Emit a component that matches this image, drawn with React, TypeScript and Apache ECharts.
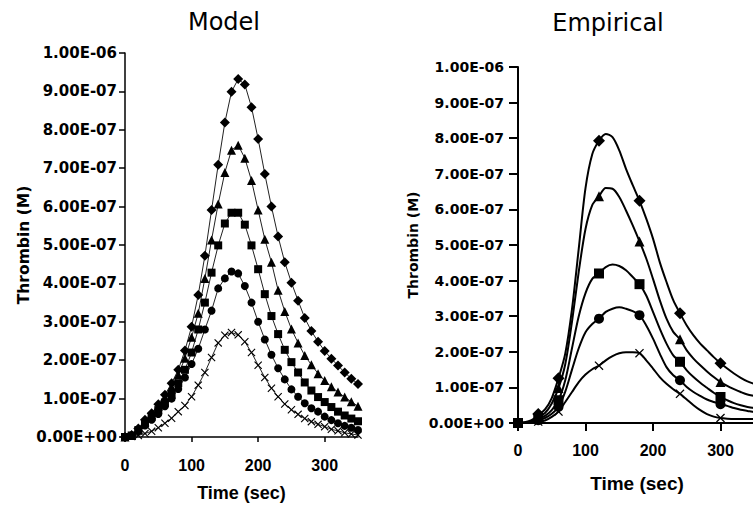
import React, { useEffect, useRef } from 'react';
import * as echarts from 'echarts';

// ---- Model panel (values in units of 1e-7 M) ----
const modelTime = [0, 10, 20, 30, 40, 50, 60, 70, 80, 90, 100, 110, 120, 130, 140, 150, 160, 170, 180, 190, 200, 210, 220, 230, 240, 250, 260, 270, 280, 290, 300, 310, 320, 330, 340, 350];
const modelDiamond = [0, 0.05, 0.22, 0.45, 0.62, 0.85, 1.1, 1.4, 1.75, 2.25, 2.87, 3.7, 4.72, 5.91, 7.09, 8.19, 8.99, 9.32, 9.18, 8.59, 7.76, 6.85, 6.0, 5.22, 4.55, 4.02, 3.55, 3.1, 2.76, 2.48, 2.24, 2.04, 1.86, 1.68, 1.52, 1.38];
const modelTriangle = [0, 0.04, 0.2, 0.4, 0.58, 0.8, 1.02, 1.3, 1.62, 2.05, 2.6, 3.22, 4.13, 5.13, 6.07, 6.89, 7.47, 7.6, 7.26, 6.68, 5.91, 5.15, 4.55, 3.82, 3.27, 2.81, 2.45, 2.12, 1.88, 1.65, 1.47, 1.31, 1.17, 1.04, 0.92, 0.8];
const modelSquare = [0, 0.04, 0.18, 0.36, 0.52, 0.7, 0.9, 1.1, 1.4, 1.75, 2.2, 2.8, 3.5, 4.28, 4.99, 5.56, 5.84, 5.84, 5.53, 4.99, 4.37, 3.72, 3.15, 2.68, 2.27, 1.95, 1.68, 1.42, 1.21, 1.04, 0.91, 0.78, 0.66, 0.56, 0.48, 0.41];
const modelCircle = [0, 0.03, 0.15, 0.3, 0.45, 0.6, 0.8, 1.0, 1.25, 1.55, 1.9, 2.3, 2.8, 3.29, 3.87, 4.13, 4.31, 4.26, 3.93, 3.5, 3.0, 2.54, 2.14, 1.79, 1.5, 1.24, 1.05, 0.88, 0.75, 0.66, 0.53, 0.44, 0.36, 0.29, 0.24, 0.18];
const modelCross = [0, 0.01, 0.04, 0.09, 0.15, 0.24, 0.36, 0.49, 0.66, 0.82, 1.05, 1.35, 1.68, 2.07, 2.45, 2.65, 2.72, 2.66, 2.48, 2.2, 1.87, 1.55, 1.27, 1.05, 0.86, 0.71, 0.59, 0.48, 0.4, 0.33, 0.27, 0.2, 0.16, 0.11, 0.08, 0.05];

// ---- Empirical panel: measured points (units of 1e-7 M) ----
const empTime = [0, 30, 60, 120, 180, 240, 300];
const empDiamond = [0, 0.25, 1.26, 7.93, 6.24, 3.08, 1.68];
const empTriangle = [0, 0.18, 0.98, 6.37, 5.1, 2.35, 1.15];
const empSquare = [0, 0.12, 0.64, 4.2, 3.9, 1.72, 0.73];
const empCircle = [0, 0.08, 0.45, 2.93, 3.03, 1.2, 0.53];
const empCross = [0, 0.04, 0.32, 1.61, 1.96, 0.82, 0.14];

// ---- Empirical panel: fitted curves (units of 1e-7 M) ----
const empCurveTime = [0, 10, 20, 30, 40, 50, 60, 70, 80, 90, 100, 110, 120, 130, 140, 150, 160, 170, 180, 190, 200, 210, 220, 230, 240, 250, 260, 270, 280, 290, 300, 310, 320, 330, 340, 350, 360];
const empCurveDiamond = [0, 0.02, 0.08, 0.22, 0.38, 0.7, 1.26, 1.95, 3.2, 4.9, 6.6, 7.55, 7.93, 8.12, 8.03, 7.66, 7.14, 6.68, 6.24, 5.74, 5.18, 4.52, 3.96, 3.45, 3.08, 2.74, 2.46, 2.23, 2.04, 1.85, 1.68, 1.53, 1.39, 1.27, 1.17, 1.1, 1.03];
const empCurveTriangle = [0, 0.01, 0.06, 0.17, 0.28, 0.55, 0.98, 1.65, 2.85, 4.25, 5.45, 6.12, 6.37, 6.6, 6.58, 6.35, 5.97, 5.55, 5.1, 4.62, 4.05, 3.45, 2.93, 2.56, 2.35, 2.04, 1.81, 1.62, 1.45, 1.29, 1.15, 1.04, 0.95, 0.87, 0.8, 0.76, 0.72];
const empCurveSquare = [0, 0.01, 0.04, 0.12, 0.2, 0.36, 0.64, 1.2, 2.1, 3.0, 3.65, 4.05, 4.2, 4.38, 4.45, 4.41, 4.29, 4.1, 3.9, 3.58, 3.12, 2.65, 2.23, 1.9, 1.72, 1.48, 1.29, 1.13, 0.99, 0.85, 0.73, 0.64, 0.56, 0.5, 0.45, 0.42, 0.4];
const empCurveCircle = [0, 0.01, 0.03, 0.08, 0.14, 0.26, 0.45, 0.88, 1.5, 2.1, 2.55, 2.78, 2.93, 3.12, 3.21, 3.25, 3.21, 3.14, 3.03, 2.74, 2.37, 1.95, 1.57, 1.34, 1.2, 1.01, 0.87, 0.76, 0.66, 0.59, 0.53, 0.48, 0.42, 0.37, 0.34, 0.31, 0.29];
const empCurveCross = [0, 0.0, 0.01, 0.04, 0.07, 0.17, 0.32, 0.59, 0.87, 1.15, 1.36, 1.51, 1.61, 1.76, 1.88, 1.96, 1.99, 1.99, 1.96, 1.76, 1.53, 1.29, 1.1, 0.95, 0.82, 0.66, 0.5, 0.36, 0.25, 0.18, 0.14, 0.12, 0.11, 0.11, 0.11, 0.11, 0.11];

// ---- Axes ----
const yTickLabels = ['0.00E+00', '1.00E-07', '2.00E-07', '3.00E-07', '4.00E-07', '5.00E-07', '6.00E-07', '7.00E-07', '8.00E-07', '9.00E-07', '1.00E-06'];
const xTickValues = [0, 100, 200, 300];
const panelTitles = ['Model', 'Empirical'];
const yAxisName = 'Thrombin (M)';
const xAxisName = 'Time (sec)';

const crossPath = 'path://M0,1L1,0L5,4L9,0L10,1L6,5L10,9L9,10L5,6L1,10L0,9L4,5Z';

const seriesDefs = [
  { key: 'diamond', symbol: 'diamond', model: modelDiamond, emp: empDiamond, curve: empCurveDiamond, ms: 10, es: 12 },
  { key: 'triangle', symbol: 'triangle', model: modelTriangle, emp: empTriangle, curve: empCurveTriangle, ms: 9, es: 10 },
  { key: 'square', symbol: 'rect', model: modelSquare, emp: empSquare, curve: empCurveSquare, ms: 8, es: 10 },
  { key: 'circle', symbol: 'circle', model: modelCircle, emp: empCircle, curve: empCurveCircle, ms: 8, es: 10 },
  { key: 'cross', symbol: crossPath, model: modelCross, emp: empCross, curve: empCurveCross, ms: 8, es: 9 },
];

export default function App() {
  const ref = useRef<HTMLDivElement>(null);
  useEffect(() => {
    if (!ref.current) return;
    document.body.style.overflow = 'hidden';
    const chart = echarts.init(ref.current, null, { renderer: 'svg' });
    const yLabelFmt = (v: number) => yTickLabels[Math.round(v)] ?? '';
    const mkY = (gridIndex: number, tickLen: number, margin: number, gap: number, nameSize: number, labelSize: number, lw: number) => ({
      type: 'value', gridIndex, min: 0, max: 10, interval: 1,
      name: yAxisName, nameLocation: 'middle', nameGap: gap,
      nameTextStyle: { fontFamily: 'DejaVu Sans', fontWeight: 'bold', fontSize: nameSize, color: '#000' },
      axisLine: { show: true, lineStyle: { color: '#000', width: lw } },
      axisTick: { show: true, length: tickLen, lineStyle: { color: '#000', width: lw } },
      axisLabel: { formatter: yLabelFmt, margin, fontFamily: 'DejaVu Sans', fontWeight: 'bold', fontSize: labelSize, color: '#000' },
      splitLine: { show: false },
    });
    const mkX = (gridIndex: number, max: number, tickLen: number, margin: number, gap: number, nameSize: number, lw: number, padRight: number) => ({
      type: 'value', gridIndex, min: 0, max, interval: 100,
      name: xAxisName, nameLocation: 'middle', nameGap: gap,
      nameTextStyle: { fontFamily: 'Liberation Sans', fontWeight: 'bold', fontSize: nameSize, color: '#000', padding: [0, padRight, 0, 0] },
      axisLine: { show: true, onZero: false, lineStyle: { color: '#000', width: lw } },
      axisTick: { show: true, length: tickLen, customValues: xTickValues, lineStyle: { color: '#000', width: lw } },
      axisLabel: { customValues: xTickValues, margin, fontFamily: 'Liberation Sans', fontWeight: 'bold', fontSize: 16, color: '#000' },
      splitLine: { show: false },
    });
    const series: any[] = [];
    seriesDefs.forEach((d) => {
      series.push({
        type: 'line', name: 'Model ' + d.key, xAxisIndex: 0, yAxisIndex: 0,
        data: modelTime.map((t, i) => [t, d.model[i]]),
        symbol: d.symbol, symbolSize: d.ms, showAllSymbol: true,
        lineStyle: { color: '#222', width: 1 },
        itemStyle: { color: '#000' },
      });
      series.push({
        type: 'line', name: 'Empirical fit ' + d.key, xAxisIndex: 1, yAxisIndex: 1,
        data: empCurveTime.map((t, i) => [t, d.curve[i]]),
        showSymbol: false, smooth: 0.3,
        lineStyle: { color: '#000', width: 2 },
      });
      series.push({
        type: 'scatter', name: 'Empirical ' + d.key, xAxisIndex: 1, yAxisIndex: 1,
        data: empTime.map((t, i) => [t, d.emp[i]]),
        symbol: d.symbol, symbolSize: d.es,
        itemStyle: { color: '#000', opacity: 1 },
      });
    });
    chart.setOption({
      animation: false,
      backgroundColor: '#fff',
      grid: [
        { left: 125, width: 233, top: 53, height: 384 },
        { left: 518, width: 270, top: 67, height: 356 },
      ],
      xAxis: [mkX(0, 350, 5, 20, 47, 18, 1.5, 0), mkX(1, 400, 8, 19, 51, 19, 2, 32)],
      yAxis: [mkY(0, 6, 8, 92, 15.5, 15, 1.5), mkY(1, 9, 14, 98, 14, 14, 2)],
      graphic: [
        { type: 'text', x: 224, y: 22, style: { text: panelTitles[0], align: 'center', verticalAlign: 'middle', font: '24px "DejaVu Sans"', fill: '#000' } },
        { type: 'text', x: 608, y: 23, style: { text: panelTitles[1], align: 'center', verticalAlign: 'middle', font: '24px "DejaVu Sans"', fill: '#000' } },
      ],
      series,
    });
    return () => chart.dispose();
  }, []);
  return <div ref={ref} style={{ position: 'fixed', left: 0, top: 0, width: 800, height: 508, background: '#fff' }} />;
}
